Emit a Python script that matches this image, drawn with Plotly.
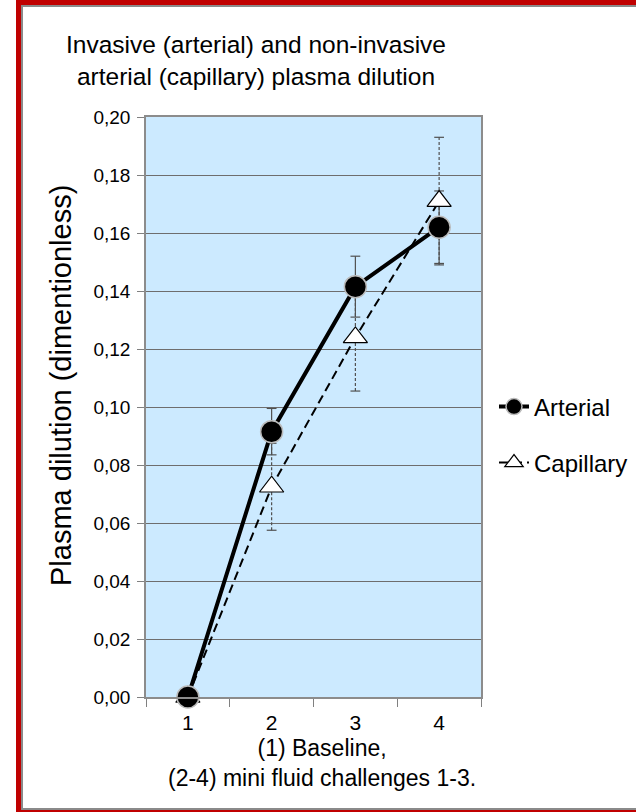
import plotly.graph_objects as go

# ---- data ----
categories = ["1", "2", "3", "4"]
arterial = [0.000, 0.0915, 0.1415, 0.162]
arterial_err = [0.000, 0.008, 0.0105, 0.0125]
capillary = [0.000, 0.0725, 0.124, 0.171]
capillary_err = [0.000, 0.015, 0.0185, 0.022]
y_ticks = [0.00, 0.02, 0.04, 0.06, 0.08, 0.10, 0.12, 0.14, 0.16, 0.18, 0.20]

title_text = "Invasive (arterial) and non-invasive<br>arterial (capillary) plasma dilution"
y_title = "Plasma dilution (dimentionless)"
x_title = "(1) Baseline,<br>(2-4) mini fluid challenges 1-3."

# ---- layout geometry (pixels) ----
W, H = 636, 812
ML, MR, MT, MB = 146, 155, 117, 115
PW, PH = W - ML - MR, H - MT - MB

def px_x(px):
    return (px - ML) / PW

def px_y(py):
    return (H - MB - py) / PH

FONT = "Liberation Sans, Arial, sans-serif"

fig = go.Figure()

# error bars (drawn first, under lines & markers)
for i, c in enumerate(categories):
    if arterial_err[i] > 0:
        fig.add_trace(go.Scatter(
            x=[c, c], y=[arterial[i] - arterial_err[i], arterial[i] + arterial_err[i]],
            mode="lines+markers", showlegend=False, hoverinfo="skip",
            line=dict(color="#505050", width=1.2),
            marker=dict(symbol="line-ew", size=7, line=dict(color="#505050", width=1.2)),
            cliponaxis=False))
    if capillary_err[i] > 0:
        fig.add_trace(go.Scatter(
            x=[c, c], y=[capillary[i] - capillary_err[i], capillary[i] + capillary_err[i]],
            mode="lines+markers", showlegend=False, hoverinfo="skip",
            line=dict(color="#505050", width=1.2, dash="3px,2px"),
            marker=dict(symbol="line-ew", size=7, line=dict(color="#505050", width=1.2)),
            cliponaxis=False))

fig.add_trace(go.Scatter(
    x=categories, y=capillary, name="Capillary", mode="lines+markers",
    line=dict(color="black", width=2, dash="9px,5px"),
    marker=dict(symbol="triangle-up", size=21, color="white",
                line=dict(color="black", width=1.2)),
    cliponaxis=False, legend="legend2"))

fig.add_trace(go.Scatter(
    x=categories, y=arterial, name="Arterial", mode="lines+markers",
    line=dict(color="black", width=4),
    marker=dict(symbol="circle", size=22, color="black",
                line=dict(color="#bbbbbb", width=1.5)),
    cliponaxis=False, legend="legend"))

# frame shapes
shapes = [
    dict(type="rect", xref="paper", yref="paper", x0=px_x(16), x1=px_x(21), y0=px_y(812), y1=px_y(0),
         fillcolor="#c00000", line=dict(width=0), layer="above"),
    dict(type="rect", xref="paper", yref="paper", x0=px_x(21), x1=px_x(23), y0=px_y(809), y1=px_y(5),
         fillcolor="#8a8a8a", line=dict(width=0), layer="above"),
    dict(type="rect", xref="paper", yref="paper", x0=px_x(16), x1=px_x(636), y0=px_y(5), y1=px_y(0),
         fillcolor="#c00000", line=dict(width=0), layer="above"),
    dict(type="rect", xref="paper", yref="paper", x0=px_x(21), x1=px_x(636), y0=px_y(7), y1=px_y(5),
         fillcolor="#8a8a8a", line=dict(width=0), layer="above"),
    dict(type="rect", xref="paper", yref="paper", x0=px_x(21), x1=px_x(636), y0=px_y(810), y1=px_y(808),
         fillcolor="#8a8a8a", line=dict(width=0), layer="above"),
    dict(type="rect", xref="paper", yref="paper", x0=px_x(16), x1=px_x(636), y0=px_y(812), y1=px_y(810),
         fillcolor="#c00000", line=dict(width=0), layer="above"),
]

annotations = [
    dict(text=y_title, xref="paper", yref="paper", x=px_x(61), y=px_y(386),
         xanchor="center", yanchor="middle", textangle=-90, showarrow=False,
         font=dict(family=FONT, size=29, color="black")),
    dict(text=x_title, xref="paper", yref="paper", x=px_x(322), y=px_y(763),
         xanchor="center", yanchor="middle", showarrow=False,
         font=dict(family=FONT, size=23, color="black")),
]

fig.update_layout(
    width=W, height=H, autosize=False,
    margin=dict(l=ML, r=MR, t=MT, b=MB, pad=0, autoexpand=False),
    paper_bgcolor="white", plot_bgcolor="#cceaff",
    separators=",.",
    font=dict(family=FONT, color="black"),
    title=dict(text=title_text, x=256 / W, xref="container", xanchor="center",
               y=1 - 53 / H, yref="container", yanchor="top",
               font=dict(family=FONT, size=24.5, color="black")),
    shapes=shapes,
    annotations=annotations,
    legend=dict(x=px_x(494), y=px_y(407), xanchor="left", yanchor="middle",
                font=dict(family=FONT, size=24, color="black"), bgcolor="rgba(0,0,0,0)",
                borderwidth=0),
    legend2=dict(x=px_x(494), y=px_y(463), xanchor="left", yanchor="middle",
                 font=dict(family=FONT, size=24, color="black"), bgcolor="rgba(0,0,0,0)",
                 borderwidth=0),
    showlegend=True,
)

fig.update_xaxes(
    type="category", categoryorder="array", categoryarray=categories,
    range=[-0.5, len(categories) - 0.5],
    tickson="boundaries", ticks="outside", ticklen=8, tickcolor="#808080",
    showline=True, linecolor="#8c8c8c", linewidth=1.5, mirror=True,
    showgrid=False, zeroline=False, ticklabelstandoff=6,
    tickfont=dict(family=FONT, size=21, color="black"),
)
fig.update_yaxes(
    range=[0, 0.2], tickvals=y_ticks, tickformat=".2f",
    ticks="outside", ticklen=7, tickcolor="#808080",
    showline=True, linecolor="#8c8c8c", linewidth=1.5, mirror=True,
    showgrid=True, gridcolor="#6e6e6e", gridwidth=1, zeroline=False,
    ticklabelstandoff=3,
    tickfont=dict(family=FONT, size=19, color="black"),
)

fig.write_html(
    "out.html",
    config={"responsive": False, "displayModeBar": False},
    post_script=(
        "document.documentElement.style.margin='0';"
        "document.documentElement.style.overflow='hidden';"
        "document.body.style.margin='0';"
        "document.body.style.overflow='hidden';"
    ),
)
